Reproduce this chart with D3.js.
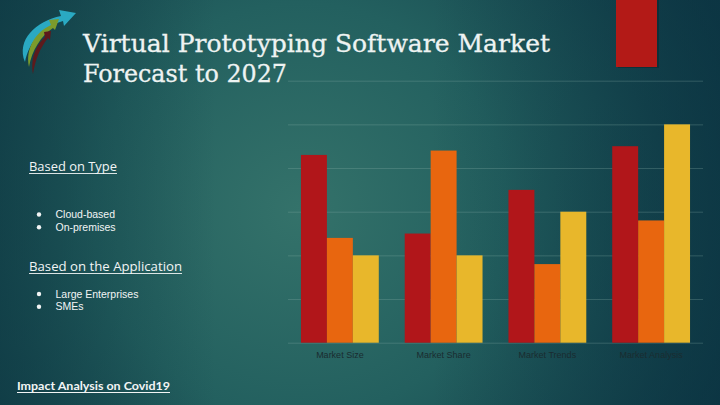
<!DOCTYPE html>
<html><head><meta charset="utf-8">
<script src="https://cdn.jsdelivr.net/npm/d3@7"></script>
<style>html,body{margin:0;padding:0;background:#123e48;}svg{display:block;}</style>
</head><body>
<svg id="c" width="720" height="405"></svg>
<script>
const categories = ["Market Size", "Market Share", "Market Trends", "Market Analysis"];
const series1 = [4.3, 2.5, 3.5, 4.5];
const series2 = [2.4, 4.4, 1.8, 2.8];
const series3 = [2, 2, 3, 5];
const yTicks = [0, 1, 2, 3, 4, 5, 6];
const typeItems = ["Cloud-based", "On-premises"];
const appItems = ["Large Enterprises", "SMEs"];

const svg = d3.select("#c");
const defs = svg.append("defs");
const rg = defs.append("radialGradient").attr("id","bg").attr("gradientUnits","userSpaceOnUse")
  .attr("cx",300).attr("cy",210).attr("r",460);
rg.append("stop").attr("offset","0").attr("stop-color","#34726a");
rg.append("stop").attr("offset","0.45").attr("stop-color","#23605f");
rg.append("stop").attr("offset","1").attr("stop-color","#0e3845");
svg.append("rect").attr("width",720).attr("height",405).attr("fill","url(#bg)");
const lg = defs.append("linearGradient").attr("id","lf").attr("x1",0).attr("x2",1).attr("y1",0).attr("y2",0);
lg.append("stop").attr("offset","0").attr("stop-color","#0c3540").attr("stop-opacity",0.55);
lg.append("stop").attr("offset","0.3").attr("stop-color","#0c3540").attr("stop-opacity",0);
svg.append("rect").attr("width",720).attr("height",405).attr("fill","url(#lf)");
const lg2 = defs.append("linearGradient").attr("id","rt").attr("x1",0).attr("x2",1).attr("y1",0).attr("y2",0);
lg2.append("stop").attr("offset","0.6").attr("stop-color","#0b3442").attr("stop-opacity",0);
lg2.append("stop").attr("offset","1").attr("stop-color","#0b3442").attr("stop-opacity",0.6);
svg.append("rect").attr("width",720).attr("height",405).attr("fill","url(#rt)");

// logo
const logo = svg.append("g");
logo.append("path").attr("fill","#2aa9c2")
  .attr("d","M25,62 C16,40 36,21 61,16 L59,10 L76,13 L64,26 L63,21 C42,27 29,42 25,62 Z");
logo.append("path").attr("fill","#7b9b2c")
  .attr("d","M29,67 C25,48 36,32 51,25 L49,20 L59,19 L55,30 L53,28 C41,36 32,50 29,67 Z");
logo.append("path").attr("fill","#5d1a1c")
  .attr("d","M33,74 C30,58 37,44 45,37 L44,32 L51,31 L50,40 L48,38 C40,48 35,60 33,74 Z");

// title
const titleFont = "'DejaVu Serif', serif";
svg.append("text").attr("x",83).attr("y",52).attr("fill","#eef3f2")
  .attr("font-family",titleFont).attr("font-size",25)
  .attr("stroke","#eef3f2").attr("stroke-width",0.3)
  .attr("textLength",467).attr("lengthAdjust","spacingAndGlyphs")
  .text("Virtual Prototyping Software  Market");
svg.append("text").attr("x",83).attr("y",82).attr("fill","#eef3f2")
  .attr("font-family",titleFont).attr("font-size",25)
  .attr("stroke","#eef3f2").attr("stroke-width",0.3)
  .attr("textLength",204).attr("lengthAdjust","spacingAndGlyphs")
  .text("Forecast to 2027");

// decorative red block top right
svg.append("rect").attr("x",618).attr("y",-2).attr("width",41).attr("height",70).attr("fill","#0a2a30").attr("opacity",0.6);
svg.append("rect").attr("x",616).attr("y",-2).attr("width",41).attr("height",69).attr("fill","#b31a17");

// left text
function heading(txt, y, w){
  svg.append("text").attr("x",29).attr("y",y).attr("fill","#f2f5f5")
    .attr("font-family","'Open Sans', sans-serif").attr("font-size",12.5)
    .attr("textLength",w).attr("lengthAdjust","spacingAndGlyphs").text(txt);
  svg.append("line").attr("x1",29).attr("x2",29+w).attr("y1",y+2.5).attr("y2",y+2.5)
    .attr("stroke","#f2f5f5").attr("stroke-width",0.9);
}
heading("Based on Type",171,88);
heading("Based on the Application",271,153);
function bullets(items, y0){
  items.forEach((t,i)=>{
    const yy = y0 + i*12.7;
    svg.append("circle").attr("cx",39).attr("cy",yy-3.5).attr("r",2.2).attr("fill","#f2f5f5");
    svg.append("text").attr("x",55.5).attr("y",yy).attr("fill","#f2f5f5")
      .attr("font-family","'Liberation Sans', Arial, sans-serif").attr("font-size",10.5).text(t);
  });
}
bullets(typeItems,218);
bullets(appItems,297.5);

svg.append("text").attr("x",17).attr("y",390).attr("fill","#f2f5f5")
  .attr("font-family","Lato, sans-serif").attr("font-weight","bold").attr("font-size",12)
  .attr("textLength",153).attr("lengthAdjust","spacingAndGlyphs").text("Impact Analysis on Covid19");
svg.append("line").attr("x1",17).attr("x2",170).attr("y1",392.5).attr("y2",392.5)
  .attr("stroke","#f2f5f5").attr("stroke-width",1);

// chart
const x0 = d3.scaleBand().domain(categories).range([288,703]).paddingInner(0.25).paddingOuter(0.125);
const seriesNames = ["s1","s2","s3"];
const x1 = d3.scaleBand().domain(seriesNames).range([0,x0.bandwidth()]);
const y = d3.scaleLinear().domain([0,6]).range([342.7,80.7]);
const colors = {s1:"#b1161a", s2:"#e8660f", s3:"#e8b72b"};
const data = categories.map((c,i)=>({cat:c, s1:series1[i], s2:series2[i], s3:series3[i]}));

const grid = svg.append("g").attr("transform","translate(288,0)")
  .call(d3.axisLeft(y).tickValues(yTicks).tickSize(-(703-288)).tickFormat(""));
grid.select(".domain").remove();
grid.selectAll(".tick line").attr("stroke","#8fb3ae").attr("stroke-opacity",0.28).attr("stroke-width",1);

const groups = svg.append("g").selectAll("g").data(data).join("g")
  .attr("transform",d=>`translate(${x0(d.cat)},0)`);
groups.selectAll("rect").data(d=>seriesNames.map(k=>({k, v:d[k]}))).join("rect")
  .attr("x",d=>x1(d.k)).attr("width",x1.bandwidth())
  .attr("y",d=>y(d.v)).attr("height",d=>y(0)-y(d.v)).attr("fill",d=>colors[d.k]);

const xa = svg.append("g").attr("transform","translate(0,342.7)")
  .call(d3.axisBottom(x0).tickSize(0).tickPadding(9));
xa.select(".domain").remove();
xa.selectAll("text").attr("fill","#1a2c30").attr("font-family","'Liberation Sans', Arial, sans-serif").attr("font-size",9);
</script>
</body></html>
